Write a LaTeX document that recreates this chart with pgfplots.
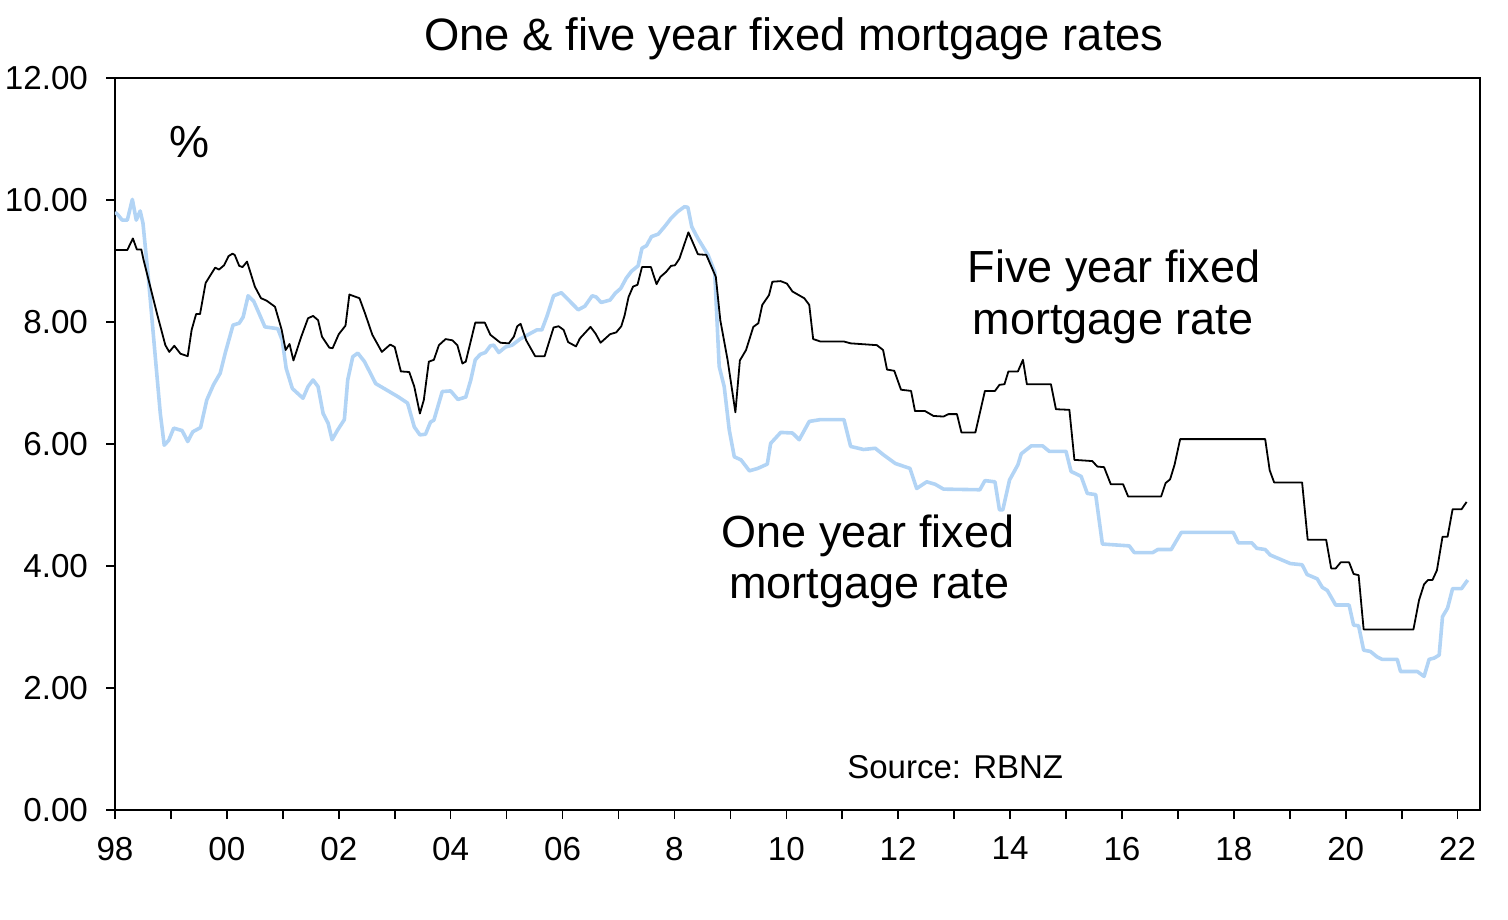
\documentclass[border=0pt]{standalone}
\usepackage{fontspec}
\setmainfont{Liberation Sans}
\usepackage{pgfplots}
\usepackage{pgfplotstable}
\pgfplotsset{compat=1.18}
\definecolor{oneyr}{RGB}{178,212,245}

\pgfplotstableread{
year rate
1998.00 9.18
1998.22 9.18
1998.32 9.37
1998.39 9.19
1998.47 9.19
1998.51 9.02
1998.60 8.69
1998.75 8.14
1998.90 7.62
1998.97 7.51
1999.06 7.61
1999.17 7.48
1999.30 7.44
1999.37 7.87
1999.45 8.13
1999.52 8.13
1999.62 8.64
1999.79 8.89
1999.86 8.86
1999.95 8.93
2000.03 9.08
2000.10 9.12
2000.14 9.10
2000.22 8.92
2000.28 8.90
2000.36 8.99
2000.50 8.58
2000.61 8.39
2000.71 8.35
2000.86 8.25
2000.93 8.03
2000.98 7.87
2001.05 7.54
2001.12 7.64
2001.19 7.37
2001.33 7.76
2001.45 8.06
2001.54 8.10
2001.63 8.03
2001.70 7.76
2001.83 7.58
2001.89 7.57
2002.00 7.80
2002.12 7.94
2002.19 8.45
2002.37 8.39
2002.47 8.14
2002.60 7.79
2002.77 7.51
2002.92 7.63
2003.00 7.59
2003.11 7.19
2003.26 7.18
2003.35 6.94
2003.45 6.50
2003.52 6.72
2003.61 7.35
2003.70 7.38
2003.79 7.62
2003.91 7.72
2004.03 7.70
2004.12 7.62
2004.21 7.32
2004.27 7.35
2004.44 7.99
2004.61 7.99
2004.71 7.79
2004.89 7.66
2005.04 7.65
2005.13 7.76
2005.19 7.93
2005.25 7.97
2005.35 7.70
2005.51 7.44
2005.68 7.44
2005.84 7.91
2005.93 7.93
2006.02 7.87
2006.10 7.67
2006.24 7.60
2006.31 7.73
2006.50 7.92
2006.59 7.81
2006.68 7.66
2006.85 7.80
2006.96 7.83
2007.05 7.93
2007.11 8.11
2007.18 8.41
2007.26 8.58
2007.34 8.61
2007.42 8.90
2007.58 8.90
2007.68 8.62
2007.75 8.74
2007.85 8.82
2007.94 8.92
2008.01 8.93
2008.09 9.04
2008.25 9.47
2008.42 9.11
2008.57 9.10
2008.74 8.74
2008.82 8.03
2008.95 7.38
2009.09 6.52
2009.17 7.37
2009.28 7.54
2009.41 7.92
2009.50 7.98
2009.57 8.28
2009.69 8.44
2009.75 8.66
2009.90 8.67
2010.01 8.63
2010.11 8.50
2010.32 8.39
2010.41 8.28
2010.48 7.72
2010.61 7.68
2011.03 7.68
2011.15 7.65
2011.62 7.62
2011.73 7.54
2011.80 7.22
2011.93 7.20
2012.05 6.89
2012.23 6.87
2012.30 6.54
2012.48 6.54
2012.63 6.46
2012.81 6.45
2012.90 6.49
2013.05 6.49
2013.13 6.19
2013.38 6.19
2013.55 6.87
2013.73 6.87
2013.81 6.97
2013.90 6.98
2013.97 7.19
2014.14 7.19
2014.23 7.38
2014.30 6.98
2014.73 6.98
2014.82 6.57
2015.06 6.56
2015.15 5.74
2015.47 5.72
2015.56 5.63
2015.68 5.62
2015.80 5.34
2016.02 5.34
2016.11 5.14
2016.70 5.14
2016.78 5.36
2016.86 5.42
2016.94 5.66
2017.04 6.08
2018.56 6.08
2018.64 5.57
2018.72 5.37
2019.22 5.37
2019.32 4.43
2019.65 4.43
2019.74 3.96
2019.82 3.96
2019.91 4.06
2020.06 4.06
2020.14 3.87
2020.23 3.85
2020.32 2.96
2021.21 2.96
2021.31 3.44
2021.40 3.70
2021.47 3.77
2021.55 3.77
2021.63 3.93
2021.73 4.48
2021.82 4.48
2021.91 4.93
2022.07 4.93
2022.16 5.05
}\fiveyr

\pgfplotstableread{
year rate
1998.00 9.80
1998.04 9.77
1998.13 9.67
1998.22 9.67
1998.31 10.01
1998.38 9.67
1998.45 9.82
1998.50 9.62
1998.60 8.69
1998.72 7.43
1998.81 6.50
1998.88 5.98
1998.96 6.06
1999.05 6.26
1999.20 6.22
1999.30 6.04
1999.39 6.20
1999.53 6.27
1999.64 6.72
1999.76 6.97
1999.88 7.16
1999.97 7.49
2000.11 7.95
2000.22 7.98
2000.29 8.08
2000.38 8.43
2000.48 8.34
2000.59 8.11
2000.68 7.92
2000.91 7.89
2000.99 7.70
2001.06 7.24
2001.17 6.91
2001.36 6.75
2001.45 6.94
2001.54 7.05
2001.63 6.94
2001.72 6.50
2001.81 6.34
2001.88 6.07
2001.98 6.23
2002.10 6.40
2002.16 7.05
2002.25 7.43
2002.34 7.49
2002.46 7.35
2002.66 6.99
2002.81 6.91
2003.05 6.78
2003.23 6.67
2003.35 6.28
2003.45 6.15
2003.55 6.16
2003.64 6.36
2003.70 6.39
2003.85 6.86
2004.00 6.87
2004.13 6.73
2004.27 6.77
2004.36 7.05
2004.44 7.38
2004.53 7.47
2004.62 7.50
2004.71 7.61
2004.77 7.62
2004.86 7.50
2004.98 7.59
2005.10 7.62
2005.24 7.72
2005.42 7.81
2005.54 7.87
2005.63 7.87
2005.72 8.09
2005.84 8.43
2005.98 8.48
2006.13 8.34
2006.28 8.20
2006.40 8.26
2006.53 8.43
2006.60 8.41
2006.69 8.32
2006.85 8.36
2006.94 8.47
2007.04 8.55
2007.14 8.72
2007.23 8.83
2007.35 8.92
2007.42 9.21
2007.50 9.25
2007.59 9.40
2007.71 9.44
2007.83 9.57
2007.94 9.70
2008.06 9.81
2008.18 9.89
2008.24 9.88
2008.31 9.56
2008.42 9.37
2008.60 9.10
2008.72 8.82
2008.80 7.27
2008.89 6.94
2008.98 6.23
2009.07 5.79
2009.19 5.74
2009.34 5.56
2009.49 5.60
2009.66 5.67
2009.72 6.01
2009.90 6.19
2010.11 6.18
2010.23 6.07
2010.41 6.37
2010.61 6.40
2011.03 6.40
2011.15 5.96
2011.38 5.91
2011.59 5.93
2011.74 5.82
2011.95 5.68
2012.21 5.60
2012.33 5.27
2012.51 5.38
2012.66 5.34
2012.81 5.26
2013.46 5.25
2013.55 5.40
2013.73 5.38
2013.81 4.92
2013.87 4.92
2013.99 5.41
2014.14 5.66
2014.20 5.84
2014.38 5.97
2014.58 5.97
2014.70 5.88
2015.00 5.88
2015.09 5.55
2015.27 5.47
2015.38 5.19
2015.53 5.17
2015.65 4.36
2016.13 4.33
2016.22 4.22
2016.55 4.22
2016.64 4.27
2016.88 4.27
2017.06 4.55
2017.99 4.55
2018.08 4.38
2018.32 4.38
2018.41 4.29
2018.56 4.27
2018.65 4.18
2018.83 4.11
2019.01 4.04
2019.22 4.02
2019.31 3.86
2019.49 3.79
2019.58 3.65
2019.67 3.60
2019.82 3.36
2020.06 3.36
2020.14 3.03
2020.23 3.02
2020.32 2.62
2020.44 2.60
2020.56 2.51
2020.65 2.47
2020.92 2.47
2020.98 2.27
2021.28 2.27
2021.40 2.19
2021.49 2.47
2021.58 2.49
2021.67 2.54
2021.73 3.17
2021.82 3.31
2021.91 3.63
2022.07 3.63
2022.18 3.77
}\oneyrtab

\begin{document}
\begin{tikzpicture}
\begin{axis}[
  scale only axis, width=682.5bp, height=366bp,
  xmin=1998, xmax=2022.4, ymin=0, ymax=12,
  xtick={1998,2000,...,2022},
  xticklabels={98,00,02,04,06,8,10,12,14,16,18,20,22},
  minor xtick={1999,2001,...,2021},
  ytick={0,2,...,12},
  yticklabels={0.00,2.00,4.00,6.00,8.00,10.00,12.00},
  tick align=outside, xtick pos=bottom, ytick pos=left,
  major tick length=4.5bp, minor tick length=4.5bp,
  axis line style={line width=0.9bp},
  every tick/.style={black, line width=0.8bp},
  every minor tick/.style={black, line width=0.8bp},
  tick label style={font=\fontsize{16.6bp}{20bp}\selectfont, text=black},
  xticklabel style={yshift=-5.5bp},
  yticklabel style={xshift=-5.5bp},
  title={One \& five year fixed mortgage rates},
  title style={font=\fontsize{22.7bp}{27bp}\selectfont, anchor=base, at={(0.4974,1)}, yshift=8bp},
  clip mode=individual,
]
\addplot[oneyr, line width=1.8bp, line join=round] table[x=year, y=rate] {\oneyrtab};
\addplot[black, line width=0.9bp, line join=round] table[x=year, y=rate] {\fiveyr};
\coordinate (bl) at (rel axis cs:0,0);
\coordinate (tr) at (rel axis cs:1,1);
\node[anchor=base, font=\fontsize{22.5bp}{26bp}\selectfont] at (axis cs:1999.33,10.70) {\%};
\node[anchor=base, font=\fontsize{22.5bp}{27bp}\selectfont] at (axis cs:2015.86,8.64) {Five year fixed};
\node[anchor=base, font=\fontsize{22.5bp}{27bp}\selectfont] at (axis cs:2015.84,7.80) {mortgage rate};
\node[anchor=base, font=\fontsize{22.5bp}{27bp}\selectfont] at (axis cs:2011.46,4.30) {One year fixed};
\node[anchor=base, font=\fontsize{22.5bp}{27bp}\selectfont] at (axis cs:2011.48,3.46) {mortgage rate};
\node[anchor=base, font=\fontsize{16.5bp}{20bp}\selectfont] at (axis cs:2013.02,0.52) {Source: RBNZ};
\end{axis}
\pgfresetboundingbox
\path[use as bounding box] ([shift={(-57.5bp,-55bp)}]bl) rectangle ([shift={(14bp,39bp)}]tr);
\end{tikzpicture}
\end{document}
